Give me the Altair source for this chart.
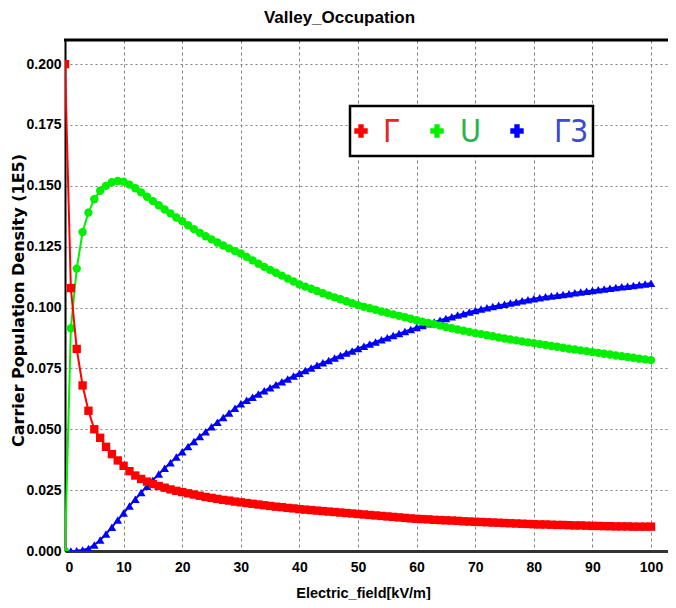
import altair as alt
import pandas as pd

field = list(range(0, 101))

gamma = [0.200, 0.108, 0.083, 0.068, 0.0576, 0.050, 0.0465, 0.0428, 0.0398, 0.0372,
         0.035, 0.0328, 0.031, 0.0296, 0.0285, 0.0275, 0.0267, 0.026, 0.0253, 0.0247,
         0.0242, 0.0237, 0.0232, 0.0227, 0.0222, 0.0218, 0.0214, 0.021, 0.0207, 0.0203,
         0.020, 0.0197, 0.0194, 0.0191, 0.0188, 0.0185, 0.0182, 0.018, 0.0177, 0.0175,
         0.0172, 0.017, 0.0168, 0.0166, 0.0164, 0.0162, 0.016, 0.0158, 0.0156, 0.0154,
         0.0152, 0.015, 0.0148, 0.0146, 0.0144, 0.0142, 0.014, 0.0138, 0.0136, 0.0134,
         0.0132, 0.0131, 0.013, 0.0128, 0.0127, 0.0126, 0.0125, 0.0124, 0.0122, 0.0121,
         0.012, 0.0119, 0.0118, 0.0117, 0.0116, 0.0115, 0.0114, 0.0113, 0.0112, 0.0111,
         0.011, 0.0109, 0.0109, 0.0108, 0.0107, 0.0107, 0.0106, 0.0105, 0.0105, 0.0104,
         0.0103, 0.0103, 0.0102, 0.0102, 0.0101, 0.0101, 0.0101, 0.01, 0.01, 0.01, 0.01]

u_vals = [0.0, 0.0915, 0.116, 0.131, 0.139, 0.1445, 0.148, 0.150, 0.1515, 0.152,
          0.1517, 0.1505, 0.149, 0.1473, 0.1455, 0.1437, 0.142, 0.1403, 0.1387, 0.137,
          0.1355, 0.1338, 0.1322, 0.1307, 0.1293, 0.128, 0.1267, 0.1255, 0.1243, 0.1232,
          0.1222, 0.1208, 0.1194, 0.118, 0.1167, 0.1155, 0.1143, 0.1131, 0.1119, 0.1107,
          0.1095, 0.1086, 0.1077, 0.1068, 0.1059, 0.105, 0.1042, 0.1034, 0.1026, 0.1018,
          0.101, 0.1003, 0.0997, 0.0991, 0.0984, 0.0978, 0.0972, 0.0966, 0.096, 0.0954,
          0.0948, 0.0942, 0.0937, 0.0932, 0.0926, 0.092, 0.0915, 0.091, 0.0905, 0.09,
          0.0895, 0.0891, 0.0886, 0.0882, 0.0877, 0.0873, 0.0869, 0.0865, 0.0861, 0.0857,
          0.0854, 0.085, 0.0846, 0.0842, 0.0839, 0.0835, 0.0831, 0.0828, 0.0824, 0.0821,
          0.0817, 0.0814, 0.081, 0.0807, 0.0803, 0.08, 0.0797, 0.0794, 0.079, 0.0787, 0.0784]

gamma3 = [0.0, 0.0, 0.0001, 0.0004, 0.0010, 0.0025, 0.0045, 0.007, 0.0098, 0.0127,
          0.0156, 0.0185, 0.0213, 0.024, 0.0266, 0.0291, 0.0316, 0.034, 0.0363, 0.0386,
          0.0408, 0.0429, 0.045, 0.047, 0.049, 0.051, 0.0529, 0.0548, 0.0567, 0.0586,
          0.0605, 0.0619, 0.0632, 0.0645, 0.0658, 0.0671, 0.0683, 0.0695, 0.0707, 0.0719,
          0.073, 0.0741, 0.0752, 0.0763, 0.0773, 0.0783, 0.0793, 0.0803, 0.0813, 0.0822,
          0.0832, 0.0841, 0.085, 0.0859, 0.0868, 0.0876, 0.0885, 0.0893, 0.0902, 0.091,
          0.0918, 0.0926, 0.0933, 0.0941, 0.0948, 0.0955, 0.0962, 0.0969, 0.0975, 0.0982,
          0.0988, 0.0994, 0.0999, 0.1004, 0.1009, 0.1014, 0.1019, 0.1023, 0.1028, 0.1032,
          0.1036, 0.104, 0.1044, 0.1047, 0.1051, 0.1054, 0.1057, 0.1061, 0.1064, 0.1067,
          0.107, 0.1073, 0.1076, 0.1079, 0.1082, 0.1085, 0.1088, 0.1091, 0.1094, 0.1097, 0.110]

series_names = ["Γ", "U", "Γ3"]
line_colors = ["#ff0000", "#00f000", "#0000ff"]
label_colors = ["#e3262e", "#2bb34b", "#3b4cc9"]
marker_shapes = ["square", "circle", "triangle-up"]
marker_sizes = [70, 70, 75]
x_ticks = list(range(0, 101, 10))
y_ticks = [0.0, 0.025, 0.05, 0.075, 0.1, 0.125, 0.15, 0.175, 0.2]

rows = []
for name, vals in zip(series_names, [gamma, u_vals, gamma3]):
    for f, v in zip(field, vals):
        rows.append({"field": f, "density": v, "valley": name})
df = pd.DataFrame(rows)
legend_df = pd.DataFrame({"valley": series_names, "color": label_colors})

W, H = 603, 511
FONT = "Liberation Sans"
xs = alt.Scale(domain=[0, 102.9], nice=False, zero=False)
ys = alt.Scale(domain=[0, 0.2099], nice=False)
cs = alt.Scale(domain=series_names, range=line_colors)

x_axis = alt.Axis(values=x_ticks, format="d", title="Electric_field[kV/m]",
                  grid=True, gridDash=[3, 3], gridColor="#808080", gridWidth=1,
                  tickSize=0, labelPadding=9, domainColor="#333333", domainWidth=3,
                  labelFont=FONT, labelFontWeight="bold", labelFontSize=14, labelColor="black",
                  titleFont=FONT, titleFontWeight="bold", titleFontSize=14.5, titleColor="black",
                  titleX=298, titleY=42, titleBaseline="middle", titleAlign="center")
y_axis = alt.Axis(values=y_ticks, format=".3f", title="Carrier Population Density  (1E5)",
                  grid=True, gridDash=[2, 3], gridColor="#808080", gridWidth=1,
                  tickSize=0, labelPadding=4, domainColor="black", domainWidth=2,
                  labelFont=FONT, labelFontWeight="bold", labelFontSize=14, labelColor="black",
                  titleFont="DejaVu Sans", titleFontWeight="bold", titleFontSize=16, titleColor="black",
                  titleX=-47, titleY=260, titleBaseline="middle", titleAlign="center", titleAngle=270)

layers = []
order = [2, 1, 0]
for i in order:
    name = series_names[i]
    base = alt.Chart(df).transform_filter(alt.datum.valley == name)
    enc = dict(
        x=alt.X("field:Q", scale=xs, axis=x_axis),
        y=alt.Y("density:Q", scale=ys, axis=y_axis),
        color=alt.Color("valley:N", scale=cs, legend=None),
    )
    line = base.mark_line(strokeWidth=2, clip=True).encode(**enc)
    pts = base.mark_point(shape=marker_shapes[i], filled=True, opacity=1,
                          size=marker_sizes[i], clip=True).encode(**enc)
    layers += [line, pts]

top_border = alt.Chart(legend_df.head(1)).mark_rule(color="black", strokeWidth=3).encode(
    x=alt.value(-1), x2=alt.value(W + 3), y=alt.value(0))

box = alt.Chart(legend_df.head(1)).mark_rect(fill="white", stroke="black", strokeWidth=2.5).encode(
    x=alt.value(285), x2=alt.value(528), y=alt.value(66), y2=alt.value(116))

sym_x = [296, 372, 452]
lab_x = [318, 395, 489]
leg_layers = [box]
for i, name in enumerate(series_names):
    b = alt.Chart(legend_df).transform_filter(alt.datum.valley == name)
    leg_layers.append(b.mark_point(shape="cross", filled=True, opacity=1, size=180,
                                   color=line_colors[i]).encode(x=alt.value(sym_x[i]), y=alt.value(91)))
    leg_layers.append(b.mark_text(align="left", baseline="middle",
                                  font="'DejaVu Sans Condensed', 'Liberation Sans', sans-serif",
                                  fontSize=32,
                                  color=label_colors[i]).encode(
        x=alt.value(lab_x[i]), y=alt.value(92), text="valley:N"))

chart = alt.layer(*layers, top_border, *leg_layers).properties(
    width=W, height=H, background="white",
    title=alt.TitleParams("Valley_Occupation", font=FONT, fontSize=17, fontWeight="bold",
                          color="black", dx=-27, offset=12),
    padding={"left": 57, "top": 32, "right": 0, "bottom": 49},
    autosize=alt.AutoSizeParams(type="none"),
).configure_view(stroke=None)

chart.save("out.html", embed_options={"renderer": "svg", "actions": False})
